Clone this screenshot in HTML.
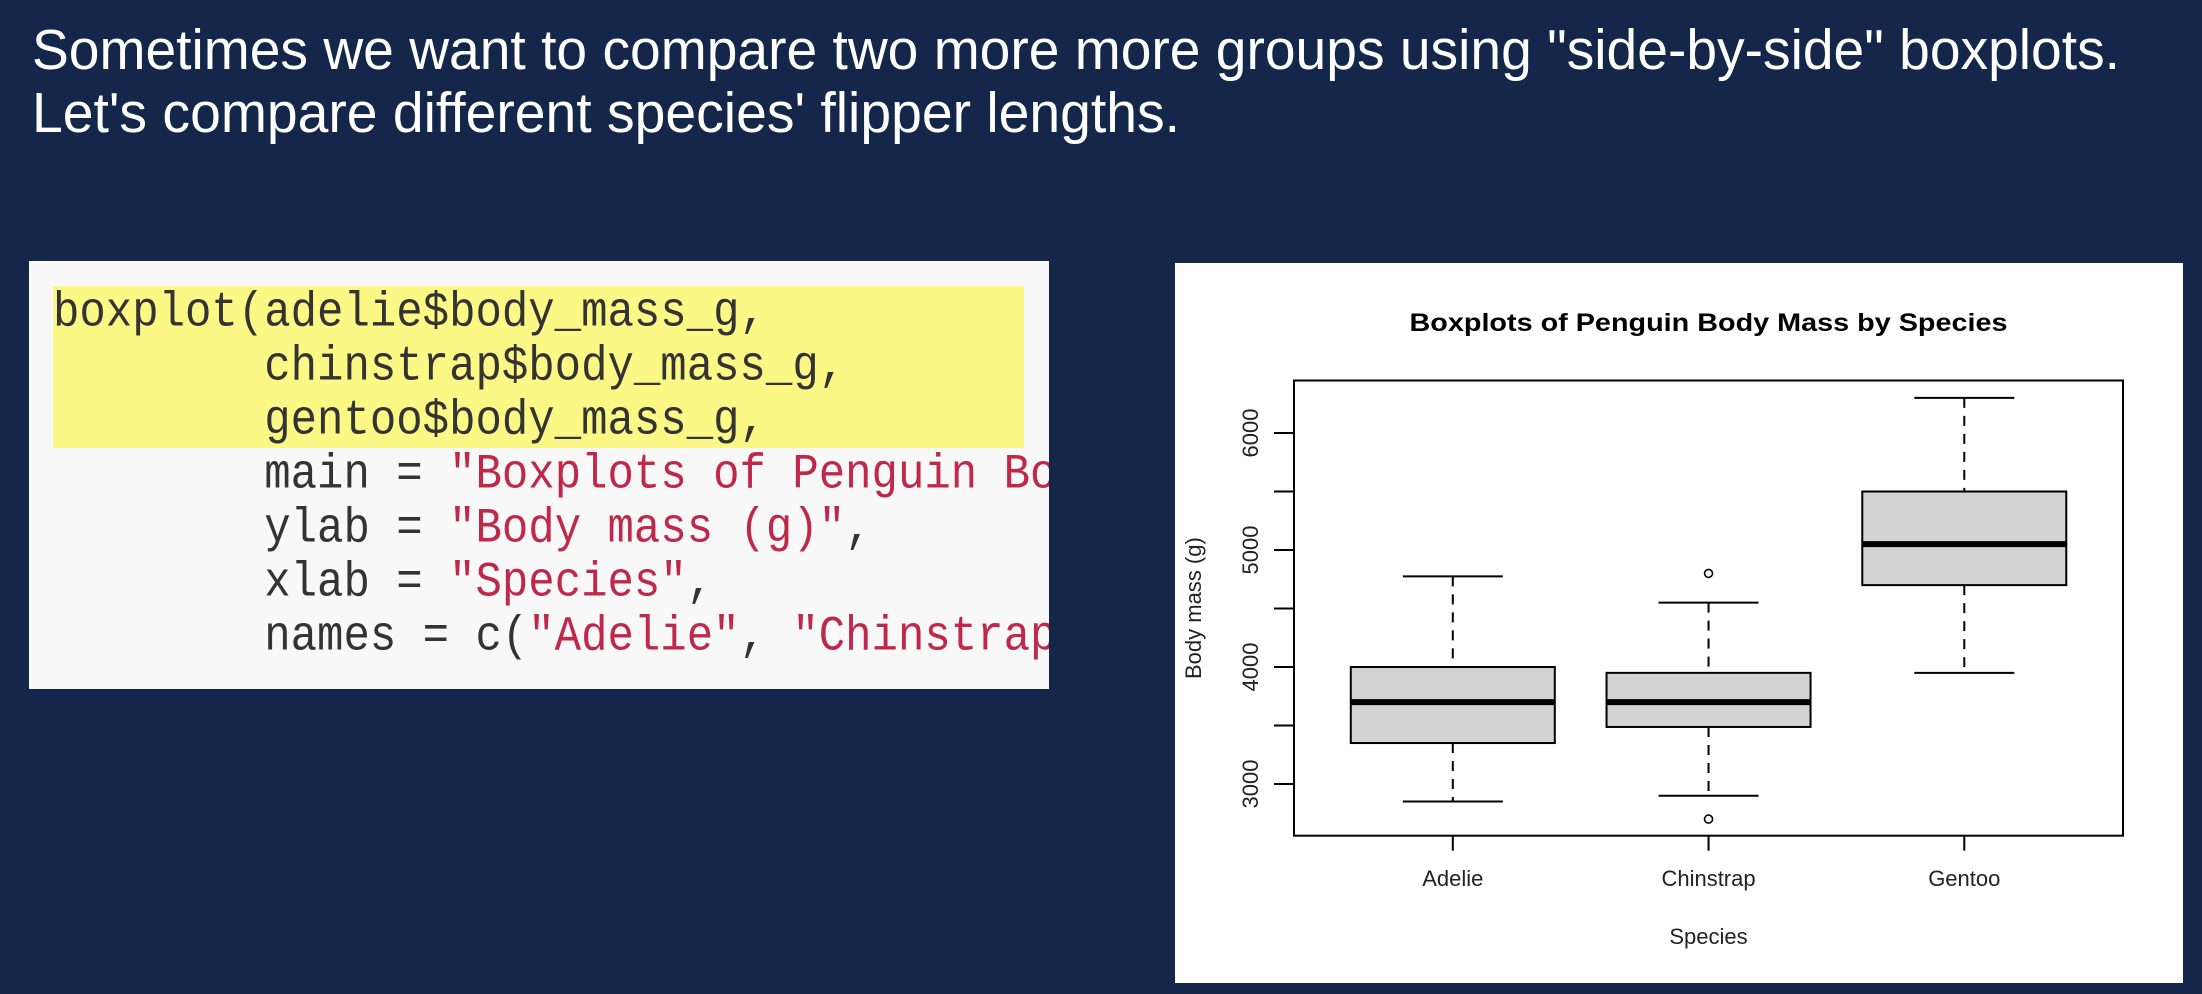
<!DOCTYPE html>
<html><head><meta charset="utf-8"><style>
html,body{margin:0;padding:0;}
body{width:2202px;height:994px;background:#14274a;position:relative;overflow:hidden;font-family:"Liberation Sans",sans-serif;}
#code{position:absolute;left:29px;top:261px;width:1020px;height:428px;background:#f8f8f8;overflow:hidden;}
#hl{position:absolute;left:24px;top:25px;width:971px;height:162px;background:#fbf885;}
.ln{position:absolute;left:24px;font-family:"Liberation Mono",monospace;font-size:44px;color:#333;white-space:pre;line-height:54px;height:54px;transform:scaleY(1.12);transform-origin:0 50%;}
.s{color:#c0284a;}
</style></head><body>
<svg style="position:absolute;left:0;top:0" width="2202" height="200">
<text x="32" y="69" fill="#fff" font-size="57" font-family="Liberation Sans, sans-serif" textLength="2088" lengthAdjust="spacingAndGlyphs">Sometimes we want to compare two more more groups using "side-by-side" boxplots.</text>
<text x="32" y="132" fill="#fff" font-size="57" font-family="Liberation Sans, sans-serif" textLength="1148" lengthAdjust="spacingAndGlyphs">Let's compare different species' flipper lengths.</text>
</svg>
<div id="code">
<div id="hl"></div>
<div class="ln" style="top:25px">boxplot(adelie$body_mass_g,</div>
<div class="ln" style="top:79px">        chinstrap$body_mass_g,</div>
<div class="ln" style="top:133px">        gentoo$body_mass_g,</div>
<div class="ln" style="top:187px">        main = <span class="s">"Boxplots of Penguin Body Mass by Species"</span>,</div>
<div class="ln" style="top:241px">        ylab = <span class="s">"Body mass (g)"</span>,</div>
<div class="ln" style="top:295px">        xlab = <span class="s">"Species"</span>,</div>
<div class="ln" style="top:349px">        names = c(<span class="s">"Adelie"</span>, <span class="s">"Chinstrap"</span>, <span class="s">"Gentoo"</span>))</div>
</div>
<svg id="chart" style="position:absolute;left:1175px;top:263px" width="1008" height="720"></svg>
<script>
const categories=["Adelie","Chinstrap","Gentoo"];
const lowerWhisker=[2850,2900,3950];
const q1=[3350,3487.5,4700];
const medians=[3700,3700,3050+2000];
const q3=[4000,3950,5500];
const upperWhisker=[4775,4550,6300];
const outliers=[[],[4800,2700],[]];
const yTicks=[3000,3500,4000,4500,5000,5500,6000];
const yTickLabels=["3000","","4000","","5000","","6000"];

const svg=document.getElementById('chart');
const NS='http://www.w3.org/2000/svg';
const L=119,R=948,T=117.5,B=572.7;
const yMin=2558,yMax=6449;
function y(v){return B-(v-yMin)/(yMax-yMin)*(B-T);}
function x(i){return L+(i+0.5)/categories.length*(R-L)*0.9255+ (R-L)*0.0373;}
function mk(tag,attrs,name){const e=document.createElementNS(NS,tag);for(const k in attrs)e.setAttribute(k,attrs[k]);


svg.appendChild(e);return e;}
mk('rect',{x:0,y:0,width:1008,height:720,fill:'#fff'},'chart-background');
const title=mk('text',{x:(L+R)/2,y:68,'text-anchor':'middle','font-size':25,'font-weight':'bold','font-family':'Liberation Sans, sans-serif',textLength:598,lengthAdjust:'spacingAndGlyphs'},'chart-title');
title.textContent='Boxplots of Penguin Body Mass by Species';
const hw=102,cw=50;
categories.forEach((c,i)=>{
  const cx=x(i);
  mk('line',{x1:cx,x2:cx,y1:y(upperWhisker[i]),y2:y(q3[i]),stroke:'#000','stroke-width':2,'stroke-dasharray':'10,8'},'whisker-upper-'+c.toLowerCase());
  mk('line',{x1:cx,x2:cx,y1:y(q1[i]),y2:y(lowerWhisker[i]),stroke:'#000','stroke-width':2,'stroke-dasharray':'10,8'},'whisker-lower-'+c.toLowerCase());
  mk('line',{x1:cx-cw,x2:cx+cw,y1:y(upperWhisker[i]),y2:y(upperWhisker[i]),stroke:'#000','stroke-width':2},'cap-upper-'+c.toLowerCase());
  mk('line',{x1:cx-cw,x2:cx+cw,y1:y(lowerWhisker[i]),y2:y(lowerWhisker[i]),stroke:'#000','stroke-width':2},'cap-lower-'+c.toLowerCase());
  mk('rect',{x:cx-hw,y:y(q3[i]),width:2*hw,height:y(q1[i])-y(q3[i]),fill:'#d3d3d3',stroke:'#000','stroke-width':2},'box-'+c.toLowerCase());
  mk('line',{x1:cx-hw,x2:cx+hw,y1:y(medians[i]),y2:y(medians[i]),stroke:'#000','stroke-width':6},'median-'+c.toLowerCase());
  outliers[i].forEach(v=>{mk('circle',{cx:cx,cy:y(v),r:4,fill:'none',stroke:'#000','stroke-width':1.6},'outlier-'+c.toLowerCase());});
  mk('line',{x1:cx,x2:cx,y1:B,y2:B+15,stroke:'#000','stroke-width':2},'x-tick-'+c.toLowerCase());
  const t=mk('text',{x:cx,y:623,'text-anchor':'middle','font-size':22,'font-family':'Liberation Sans, sans-serif',fill:'#222'},'x-tick-label-'+c.toLowerCase());
  t.textContent=c;
});
yTicks.forEach((v,i)=>{
  mk('line',{x1:L-20,x2:L,y1:y(v),y2:y(v),stroke:'#000','stroke-width':2},'y-tick-'+v);
  if(yTickLabels[i]){const t=mk('text',{x:0,y:0,transform:`translate(83,${y(v)}) rotate(-90)`,'text-anchor':'middle','font-size':22,'font-family':'Liberation Sans, sans-serif',fill:'#222'},'y-tick-label-'+v);t.textContent=yTickLabels[i];}
});
mk('rect',{x:L,y:T,width:R-L,height:B-T,fill:'none',stroke:'#000','stroke-width':2},'plot-frame');
const xl=mk('text',{x:(L+R)/2,y:681,'text-anchor':'middle','font-size':22,'font-family':'Liberation Sans, sans-serif',fill:'#222'},'x-axis-title');xl.textContent='Species';
const yl=mk('text',{x:0,y:0,transform:`translate(26,${(T+B)/2}) rotate(-90)`,'text-anchor':'middle','font-size':22,'font-family':'Liberation Sans, sans-serif',fill:'#222'},'y-axis-title');yl.textContent='Body mass (g)';
</script>
</body></html>
